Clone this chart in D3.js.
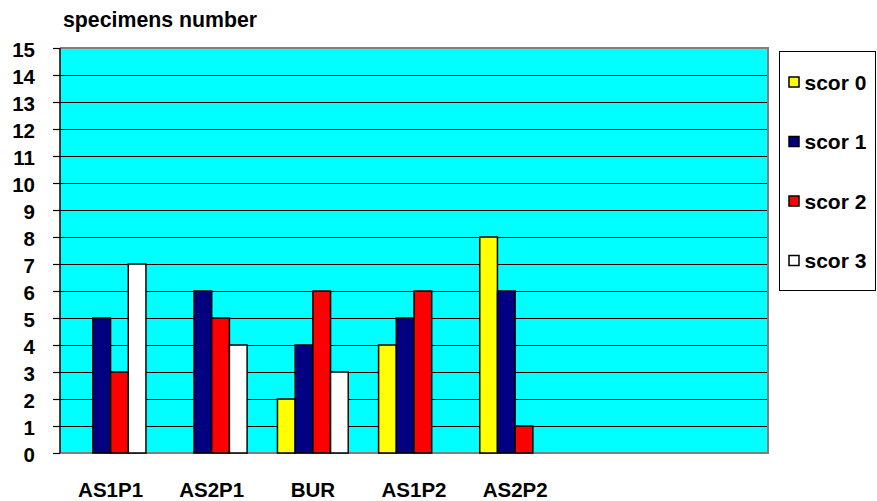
<!DOCTYPE html>
<html><head><meta charset="utf-8">
<script src="https://cdn.jsdelivr.net/npm/d3@7"></script>
<style>body{margin:0;background:#fff}svg{display:block;font-family:Arial,"Liberation Sans",sans-serif;font-weight:bold}</style>
</head><body><svg id="c" width="877" height="501"></svg>
<script>
const categories = ["AS1P1","AS2P1","BUR","AS1P2","AS2P2"];
const emptySlots = ["", " "];
const seriesNames = ["scor 0","scor 1","scor 2","scor 3"];
const scor0 = [0,0,2,4,8];
const scor1 = [5,6,4,5,6];
const scor2 = [3,5,6,6,1];
const scor3 = [7,4,3,0,0];
const yTicks = [0,1,2,3,4,5,6,7,8,9,10,11,12,13,14,15];
const colors = ["#FFFF00","#000080","#FF0000","#FFFFFF"];
const series = [scor0,scor1,scor2,scor3];

const svg = d3.select("#c");
const L=60,R=768,T=48,B=453;
const x = d3.scaleBand().domain(categories.concat(emptySlots)).range([L,R]).paddingInner(0).paddingOuter(0);
const barW = x.bandwidth()*0.175;
const xs = d3.scaleBand().domain(seriesNames).range([0,barW*4]);
const y = d3.scaleLinear().domain([0,15]).range([B,T]);

svg.append("rect").attr("x",L).attr("y",T).attr("width",R-L).attr("height",B-T).attr("fill","#00FFFF");
// gridlines
svg.append("g").selectAll("line").data(yTicks.filter(d=>d>0&&d<15)).join("line")
  .attr("x1",L).attr("x2",R).attr("y1",d=>Math.round(y(d))+0.5).attr("y2",d=>Math.round(y(d))+0.5).attr("stroke","#000").attr("stroke-width",1.2);
// border
svg.append("path").attr("d",`M${L},${T}H${R}V${B}H${L}`).attr("fill","none").attr("stroke","#808080").attr("stroke-width",2);

// bars
const g = svg.append("g");
series.forEach((vals,si)=>{
  g.append("g").selectAll("rect").data(vals.map((v,i)=>({v,c:categories[i]})).filter(d=>d.v>0)).join("rect")
    .attr("x",d=>x(d.c)+x.bandwidth()/2-barW*2+xs(seriesNames[si]))
    .attr("y",d=>y(d.v)).attr("width",xs.bandwidth()).attr("height",d=>y(0)-y(d.v))
    .attr("fill",colors[si]).attr("stroke","#000").attr("stroke-width",1.5);
});

// y axis
const ya = svg.append("g").attr("transform",`translate(${L},0)`).call(d3.axisLeft(y).tickValues(yTicks).tickSize(7).tickPadding(0));
ya.select(".domain").attr("stroke","#000").attr("stroke-width",1.5).attr("d",`M0,${T}V${B}`);
ya.selectAll(".tick").attr("transform",d=>`translate(0,${Math.round(y(d))+0.5})`);
ya.selectAll(".tick line").attr("stroke","#000").attr("stroke-width",1.2);
ya.selectAll(".tick text").attr("x",-25).attr("dy",null).attr("y",8.5).attr("font-size",20.5).attr("font-weight","bold").attr("font-family","Arial, 'Liberation Sans', sans-serif").attr("fill","#000");

// x labels
const xa = svg.append("g").attr("transform",`translate(0,${B})`).call(d3.axisBottom(x).tickValues(categories).tickSize(0).tickPadding(0));
xa.select(".domain").remove();
xa.selectAll(".tick text").attr("dy",null).attr("y",44).attr("font-size",20.5).attr("font-weight","bold").attr("font-family","Arial, 'Liberation Sans', sans-serif").attr("fill","#000");

// title
svg.append("text").attr("x",63).attr("y",27).attr("font-size",21.3).text("specimens number");

// legend
svg.append("rect").attr("x",779.5).attr("y",51.5).attr("width",96).attr("height",239).attr("fill","#fff").attr("stroke","#000").attr("stroke-width",1);
const lg = svg.append("g").selectAll("g").data(seriesNames).join("g")
  .attr("transform",(d,i)=>`translate(789,${82+i*59.5})`);
lg.append("rect").attr("x",0).attr("y",-5).attr("width",10).attr("height",10).attr("fill",(d,i)=>colors[i]).attr("stroke","#000").attr("stroke-width",1.5);
lg.append("text").attr("x",15.5).attr("y",7.5).attr("font-size",21).text(d=>d);
</script></body></html>
